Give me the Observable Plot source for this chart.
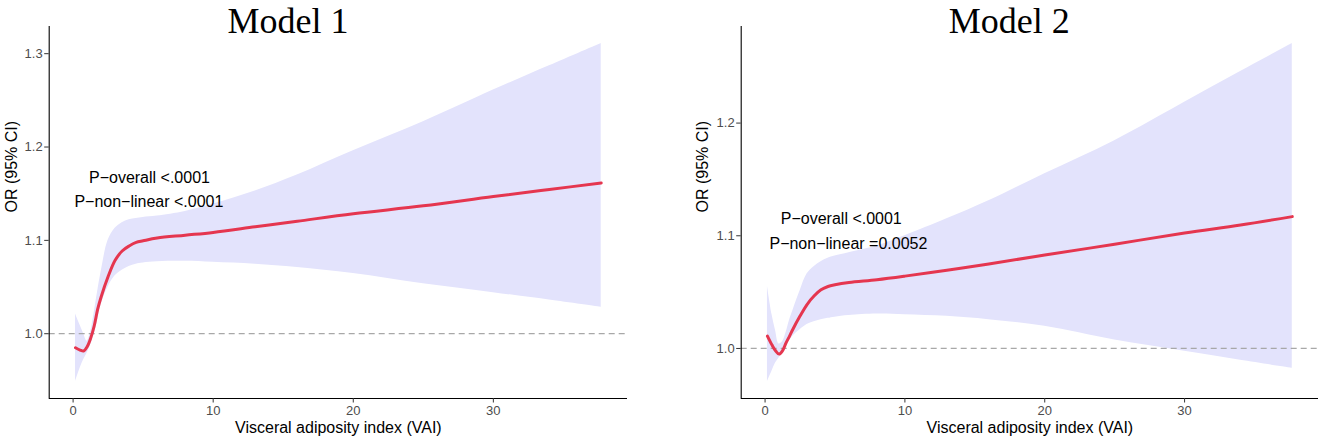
<!DOCTYPE html>
<html><head><meta charset="utf-8">
<script src="https://cdn.jsdelivr.net/npm/d3@7"></script>
<script src="https://cdn.jsdelivr.net/npm/@observablehq/plot@0.6"></script>
<style>
html,body{margin:0;padding:0;background:#fff;}
#wrap{position:relative;width:1325px;height:441px;overflow:hidden;background:#fff;}
#p1{position:absolute;left:0;top:0;}
#p2{position:absolute;left:665px;top:0;}
</style></head><body>
<div id="wrap"><div id="p1"></div><div id="p2"></div></div>
<script>
// VAI grid (x) shared by both models
const vai = [0.17, 0.5, 0.75, 1.0, 1.25, 1.5, 1.75, 2.0, 2.5, 3.0, 3.5, 4.0, 4.5, 5.0, 6.0, 8.0, 10, 13, 16, 20, 25, 30, 34, 37.7];

// Model 1: OR and 95% CI
const or1 = [0.985, 0.9825, 0.9815, 0.986, 0.995, 1.008, 1.026, 1.0394, 1.0612, 1.0786, 1.0886, 1.094, 1.0978, 1.0995, 1.1025, 1.1055, 1.1085, 1.1145, 1.1205, 1.1285, 1.137, 1.147, 1.1545, 1.1615];
const lo1 = [0.9487, 0.963, 0.972, 0.979, 0.988, 0.999, 1.014, 1.031, 1.050, 1.062, 1.068, 1.072, 1.0745, 1.0757, 1.077, 1.0775, 1.0765, 1.0745, 1.071, 1.0645, 1.0535, 1.044, 1.036, 1.0283];
const hi1 = [1.021, 1.009, 1.0, 0.992, 1.002, 1.022, 1.045, 1.066, 1.100, 1.113, 1.119, 1.122, 1.1235, 1.1245, 1.126, 1.131, 1.139, 1.153, 1.170, 1.196, 1.227, 1.261, 1.287, 1.311];

// Model 2: OR and 95% CI
const or2 = [1.011, 1.003, 0.998, 0.995, 0.998, 1.005, 1.011, 1.0173, 1.0287, 1.039, 1.0465, 1.052, 1.055, 1.0565, 1.0585, 1.061, 1.0642, 1.0695, 1.075, 1.0829, 1.0925, 1.1025, 1.1095, 1.117];
const lo2 = [0.9706, 0.980, 0.987, 0.9915, 0.996, 1.002, 1.007, 1.011, 1.0165, 1.0212, 1.0237, 1.0255, 1.0267, 1.0278, 1.0292, 1.0305, 1.030, 1.0285, 1.0255, 1.0196, 1.0075, 0.9975, 0.9895, 0.9825];
const hi2 = [1.0553, 1.030, 1.016, 1.004, 1.006, 1.014, 1.025, 1.034, 1.051, 1.066, 1.0725, 1.077, 1.080, 1.082, 1.085, 1.091, 1.100, 1.115, 1.131, 1.155, 1.1844, 1.2185, 1.2457, 1.2707];

const titles = ["Model 1", "Model 2"];
const pOverall = ["P\u2212overall <.0001", "P\u2212overall <.0001"];
const pNonLinear = ["P\u2212non\u2212linear <.0001", "P\u2212non\u2212linear =0.0052"];
const labelX1 = [5.45, 5.41], labelY1 = [1.1666, 1.1414];
const labelX2 = [5.45, 5.96], labelY2 = [1.1148, 1.0925];
const xTicks = [0, 10, 20, 30];
const yTicks1 = [1.0, 1.1, 1.2, 1.3];
const yTicks2 = [1.0, 1.1, 1.2];
const refOR = 1;
const xTitle = "Visceral adiposity index (VAI)";
const yTitle = "OR (95% CI)";

function expand(vals) {
  const [a, b] = d3.extent(vals);
  const p = (b - a) * 0.05;
  return [a - p, b + p];
}

function panel({or, lo, hi, yTicks, title, labels, width, marginLeft, marginRight, titleDx, yTitleDx}) {
  const rows = vai.map((x, i) => ({x, or: or[i], lo: lo[i], hi: hi[i]}));
  const xDomain = expand(vai);
  const yDomain = expand(lo.concat(hi));
  return Plot.plot({
    width, height: 441,
    marginLeft, marginRight, marginTop: 26, marginBottom: 43,
    style: {fontFamily: "'Liberation Sans', Arial, sans-serif", fontSize: "13px", background: "white", overflow: "visible"},
    x: {domain: xDomain},
    y: {domain: yDomain},
    marks: [
      Plot.areaY(rows, {x: "x", y1: "lo", y2: "hi", fill: "#e3e3fc", curve: "catmull-rom"}),
      Plot.ruleY([refOR], {stroke: "#a8a8a8", strokeWidth: 1.2, strokeDasharray: "6,4"}),
      Plot.line(rows, {x: "x", y: "or", stroke: "#e5364f", strokeWidth: 3, curve: "catmull-rom"}),
      Plot.ruleX([xDomain[0]], {stroke: "black", strokeWidth: 1.1}),
      Plot.ruleY([yDomain[0]], {stroke: "black", strokeWidth: 1.1}),
      Plot.axisX({ticks: xTicks, tickSize: 4.5, tickPadding: 3, stroke: "#333", fill: "#4d4d4d", label: null, fontSize: 13}),
      Plot.axisY({ticks: yTicks, tickFormat: d3.format(".1f"), tickSize: 4.5, tickPadding: 2, stroke: "#333", fill: "#4d4d4d", label: null, fontSize: 13}),
      Plot.text([title], {text: d => d, frameAnchor: "top", lineAnchor: "bottom", dy: 6.6, dx: titleDx,
        fontFamily: "'Liberation Serif', 'Times New Roman', serif", fontSize: 36, fill: "black"}),
      Plot.text([yTitle], {text: d => d, frameAnchor: "left", rotate: -90, dx: yTitleDx, fontSize: 16, fill: "black"}),
      Plot.text([xTitle], {text: d => d, frameAnchor: "bottom", lineAnchor: "bottom", dy: 34, fontSize: 16, fill: "black"}),
      Plot.text(labels, {x: "x", y: "y", text: "t", fontSize: 16, fill: "black"})
    ]
  });
}

document.getElementById("p1").append(panel({
  or: or1, lo: lo1, hi: hi1, yTicks: yTicks1, title: titles[0],
  labels: [{x: labelX1[0], y: labelY1[0], t: pOverall[0]}, {x: labelX1[1], y: labelY1[1], t: pNonLinear[0]}],
  width: 662, marginLeft: 48.7, marginRight: 35, titleDx: -50.3, yTitleDx: -37
}));
document.getElementById("p2").append(panel({
  or: or2, lo: lo2, hi: hi2, yTicks: yTicks2, title: titles[1],
  labels: [{x: labelX2[0], y: labelY2[0], t: pOverall[1]}, {x: labelX2[1], y: labelY2[1], t: pNonLinear[1]}],
  width: 660, marginLeft: 75.7, marginRight: 7, titleDx: -20.5, yTitleDx: -38
}));
</script>
</body></html>
